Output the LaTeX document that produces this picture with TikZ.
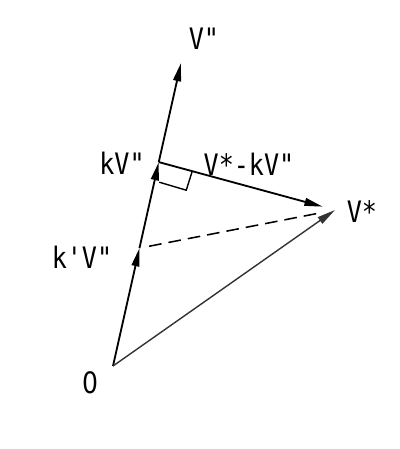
\documentclass[tikz,border=0pt]{standalone}
\usepackage{fontspec}
\setmonofont{DejaVu Sans Mono}[FakeStretch=0.85]
\newfontfamily\zerofont{DejaVu Sans}[FakeStretch=0.85]
\usepackage{tikz}
\usetikzlibrary{arrows.meta, positioning, calc}

\begin{document}
\begin{tikzpicture}[
        x=0.025cm, y=-0.025cm,
        vec/.style={line width=1.3pt, -{Triangle[length=13pt, width=5.5pt]}},
        lbl/.style={font=\ttfamily\fontsize{21}{23}\selectfont, inner sep=0pt}
    ]
        \useasboundingbox (0,0) rectangle (400,449);

        % Points
        \coordinate (O) at (113,366);
        \coordinate (Vpp) at (181,63);
        \coordinate (Vs) at (335,210);
        \coordinate (kV) at ($(O)!0.673!(Vpp)$);
        \coordinate (kpV) at ($(O)!0.389!(Vpp)$);

        % Vector V'' in three pieces
        \draw[vec] (O) -- (kpV);
        \draw[vec] (kpV) -- (kV);
        \draw[vec] (kV) -- (Vpp);

        % Vector V*
        \draw[vec, line width=1pt, black!80] (O) -- (Vs);

        % Perpendicular V* - kV''
        \draw[vec] (kV) -- ($(kV)!0.93!(Vs)$);
        \draw[line width=1pt] ($(kV)!0.19!(Vs)$) -- ++(-6,19) -- ++(-27,-8);

        % Dashed line from k'V''
        \draw[line width=1.1pt, dash pattern=on 9pt off 5pt, shorten <=7pt]
            (kpV) -- ($(kpV)!0.93!(Vs)$);

        % Labels
        \node[lbl] (lVpp) at (204,39) {V"};
        \node[lbl] (lkV) at (122,163) {kV"};
        \node[lbl] (ldiff) at (249,164) {V*-kV"};
        \node[lbl] (lVs) at (362,212) {V*};
        \node[lbl] (lkpV) at (82,257) {k'V"};
        \node[lbl, font=\zerofont\fontsize{21}{23}\selectfont] (lO) at (90,383) {0};

    \end{tikzpicture}
\end{document}
